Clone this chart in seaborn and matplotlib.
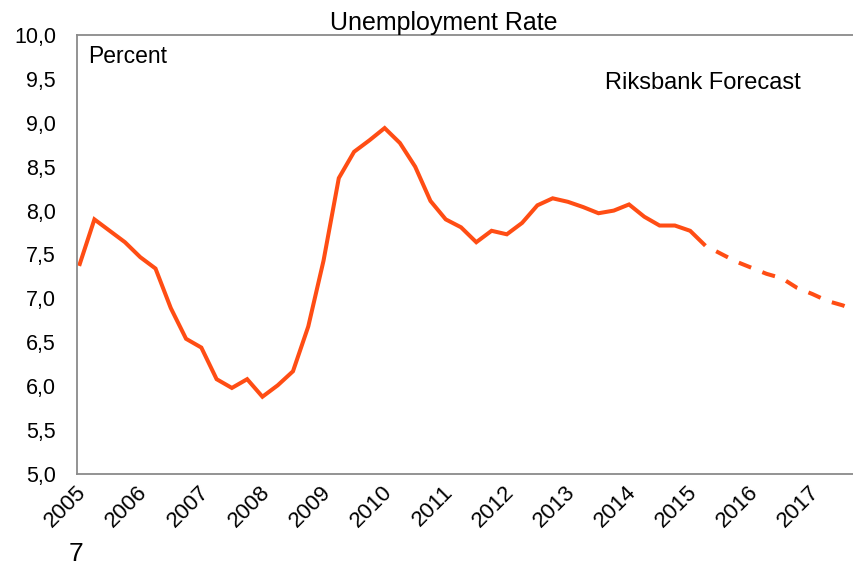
import matplotlib
matplotlib.use("Agg")
import matplotlib.pyplot as plt
import matplotlib.transforms as mtransforms
import numpy as np
import pandas as pd
import seaborn as sns

# Quarterly unemployment rate, percent (2005Q1 - 2015Q2 outcome)
actual_start = 2005
actual_rate = [
    7.37, 7.90, 7.77, 7.64,   # 2005
    7.47, 7.34, 6.89, 6.54,   # 2006
    6.44, 6.08, 5.98, 6.08,   # 2007
    5.88, 6.01, 6.17, 6.68,   # 2008
    7.43, 8.37, 8.67, 8.80,   # 2009
    8.94, 8.77, 8.50, 8.11,   # 2010
    7.90, 7.81, 7.64, 7.77,   # 2011
    7.73, 7.86, 8.06, 8.14,   # 2012
    8.10, 8.04, 7.97, 8.00,   # 2013
    8.07, 7.93, 7.83, 7.83,   # 2014
    7.77, 7.60,               # 2015
]
# Riksbank forecast, 2015Q2 - 2017Q4
forecast_rate = [7.60, 7.51, 7.42, 7.35, 7.28, 7.23, 7.12, 7.05, 6.97, 6.92, 6.85]

year_ticks = list(range(2005, 2018))
y_ticks = [5.0, 5.5, 6.0, 6.5, 7.0, 7.5, 8.0, 8.5, 9.0, 9.5, 10.0]
y_tick_labels = ["5,0", "5,5", "6,0", "6,5", "7,0", "7,5", "8,0", "8,5", "9,0", "9,5", "10,0"]

title = "Unemployment Rate"
unit_label = "Percent"
forecast_label = "Riksbank Forecast"
page_number = "7"

# quarter index -> decimal year (observations sit just after the quarter start)
def quarter_to_year(idx):
    return actual_start + np.asarray(idx) / 4.0 + 0.03

actual = pd.DataFrame({"t": quarter_to_year(np.arange(len(actual_rate))),
                       "rate": actual_rate})
fc_idx = np.arange(len(actual_rate) - 1, len(actual_rate) - 1 + len(forecast_rate))
forecast = pd.DataFrame({"t": quarter_to_year(fc_idx), "rate": forecast_rate})

sns.set_style("white")
plt.rcParams["font.family"] = ["Liberation Sans", "DejaVu Sans"]
plt.rcParams["text.color"] = "black"

line_color = "#FF4D14"
spine_color = "#8A8A8A"

fig = plt.figure(figsize=(8.54, 5.67), dpi=100)
ax = fig.add_axes([77.3 / 854, 1 - 474 / 567, 1 - 77.3 / 854, (474 - 35) / 567])

sns.lineplot(data=actual, x="t", y="rate", ax=ax, color=line_color,
             linewidth=2.9, solid_capstyle="butt", solid_joinstyle="miter")
sns.lineplot(data=forecast, x="t", y="rate", ax=ax, color=line_color,
             linewidth=2.9)
fc_line = ax.get_lines()[-1]
fc_line.set_linestyle((3.3, (3.3, 3.0)))
fc_line.set_dash_capstyle("butt")

ax.set_xlim(2005, 2005 + (854 - 77.3) / 61.1)
ax.set_ylim(5.0, 10.0)
ax.set_xticks(year_ticks)
ax.set_xticklabels([str(y) for y in year_ticks])
ax.set_yticks(y_ticks)
ax.set_yticklabels(y_tick_labels)
ax.set_xlabel("")
ax.set_ylabel("")

for side in ["left", "bottom", "top"]:
    ax.spines[side].set_color(spine_color)
    ax.spines[side].set_linewidth(1.3)
ax.spines["right"].set_visible(False)

ax.tick_params(axis="both", direction="out", length=4.3, width=1.0,
               color=spine_color, labelsize=15.5, labelcolor="black")
ax.tick_params(axis="y", pad=11)
ax.tick_params(axis="x", pad=6.5, labelsize=16)

shift = mtransforms.ScaledTranslation(6 / 100, 0, fig.dpi_scale_trans)
for lbl in ax.get_xticklabels():
    lbl.set_rotation(45)
    lbl.set_ha("right")
    lbl.set_va("center")
    lbl.set_rotation_mode("anchor")
    lbl.set_transform(lbl.get_transform() + shift)

ax.text(0.0138, 0.9355, unit_label, transform=ax.transAxes, fontsize=16.5,
        ha="left", va="baseline")
ax.text(0.6794, 0.877, forecast_label, transform=ax.transAxes, fontsize=17,
        ha="left", va="baseline")
fig.text(443.5 / 854, 1 - 30 / 567, title, fontsize=18, ha="center", va="baseline")
fig.text(69 / 854, 6 / 567, page_number, fontsize=19, ha="left", va="baseline")

fig.savefig("out.png", dpi=100)
